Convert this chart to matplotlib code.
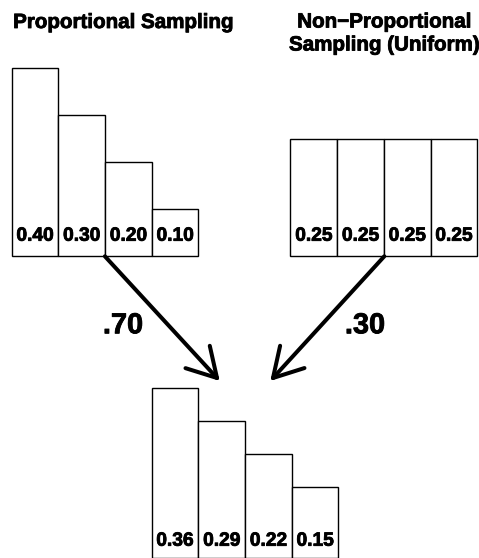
import numpy as np
import matplotlib
matplotlib.use("Agg")
import matplotlib.pyplot as plt
import matplotlib.patheffects as pe

# ===== 数据 =====
prop_values = [0.40, 0.30, 0.20, 0.10]
uniform_values = [0.25, 0.25, 0.25, 0.25]
mixed_values = [0.36, 0.29, 0.22, 0.15]
prop_weight = ".70"
uniform_weight = ".30"
title_left = "Proportional Sampling"
title_right = ["Non\u2212Proportional", "Sampling (Uniform)"]

plt.rcParams["font.family"] = ["Liberation Sans", "DejaVu Sans"]

W, H = 479, 558
SCALE = 470.0      # 每单位高度对应的像素
BAR_W = 46.7
BOLD = [pe.withStroke(linewidth=0.6, foreground="black")]  # 加粗一点，接近原图

fig = plt.figure(figsize=(W / 100, H / 100), dpi=100)
ax = fig.add_axes([0, 0, 1, 1])
ax.set_xlim(0, W)
ax.set_ylim(H, 0)   # 像素坐标，y 向下
ax.axis("off")


def btext(x, y, s, size):
    ax.text(x, y, s, ha="center", va="baseline", fontsize=size,
            fontweight="bold", path_effects=BOLD)


def draw_bars(values, x0, base, label_y):
    xs = x0 + BAR_W * np.arange(len(values))
    hs = np.array(values) * SCALE
    ax.bar(xs, hs, bottom=base - hs, width=BAR_W, align="edge",
           facecolor="white", edgecolor="black", linewidth=1.0)
    for x, v in zip(xs, values):
        btext(x + BAR_W / 2, label_y, f"{v:.2f}", 13.8)


draw_bars(prop_values, 11.7, 256.3, 240.7)
draw_bars(uniform_values, 290.5, 256.3, 240.7)
draw_bars(mixed_values, 151.7, 557.6, 545.7)


def draw_arrow(start, tip, head_len=33, head_ang=30):
    sx, sy = start
    tx, ty = tip
    ax.plot([sx, tx], [sy, ty], color="black", lw=2.9, solid_capstyle="round")
    ang = np.arctan2(sy - ty, sx - tx)
    for d in (-1, 1):
        a = ang + d * np.radians(head_ang)
        ax.plot([tx, tx + head_len * np.cos(a)], [ty, ty + head_len * np.sin(a)],
                color="black", lw=2.9, solid_capstyle="round")


draw_arrow((104.9, 256.3), (217, 378))
draw_arrow((384.3, 256.3), (273, 378))

btext(123, 333.3, prop_weight, 20.8)
btext(365, 333.3, uniform_weight, 20.8)

btext(123, 28, title_left, 14.8)
btext(384, 27.5, title_right[0], 14.8)
btext(384, 50.5, title_right[1], 14.8)

fig.savefig("out.png", dpi=100)
